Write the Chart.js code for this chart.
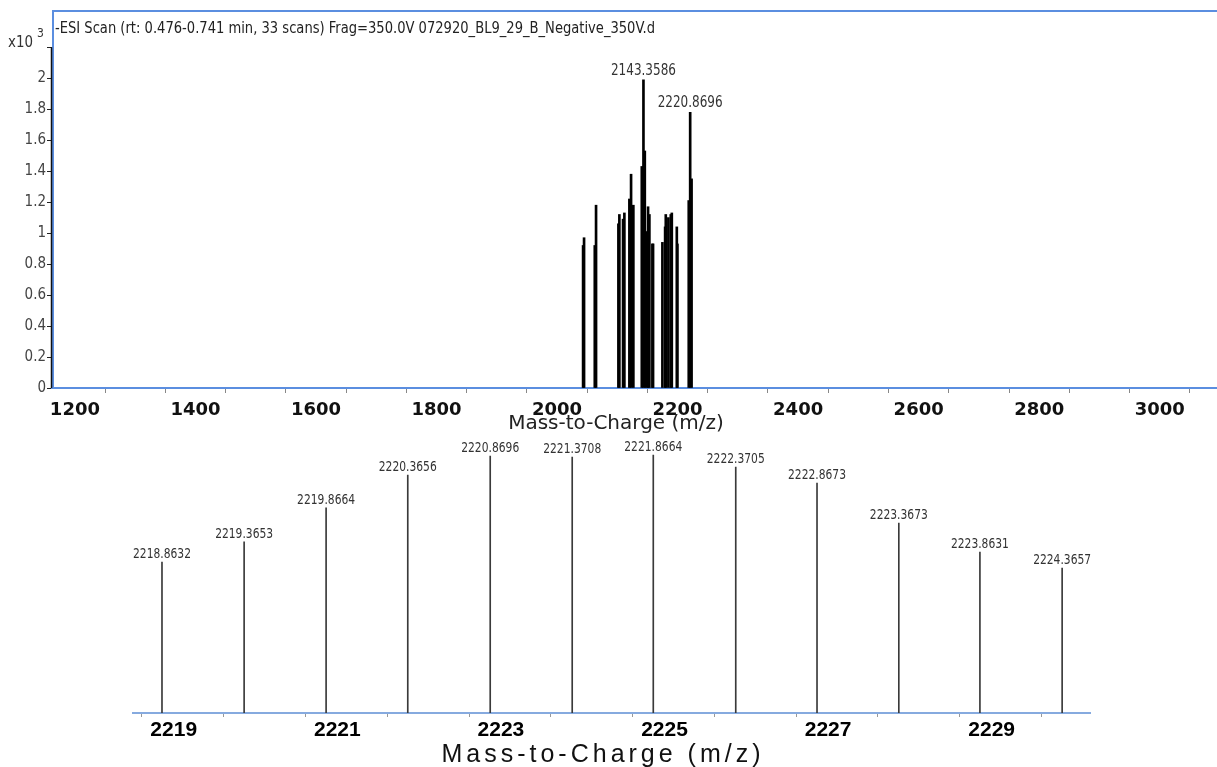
<!DOCTYPE html>
<html>
<head>
<meta charset="utf-8">
<script src="https://cdn.jsdelivr.net/npm/chart.js@4.4.1/dist/chart.umd.min.js"></script>
<style>
  body { margin: 0; background: #fff; }
  #wrap { position: relative; width: 1217px; height: 767px; }
  canvas { position: absolute; left: 0; }
  #scan { top: 0; }
  #zoom { top: 440px; }
</style>
</head>
<body>
<div id="wrap">
  <canvas id="scan" width="1217" height="440"></canvas>
  <canvas id="zoom" width="1217" height="327"></canvas>
</div>
<script>
// full scan: m/z and counts (x10^3)
const scanMz = [
  2043.2, 2044.8, 2062.6, 2064.7, 2101.8, 2103.4, 2109.5, 2111.7,
  2120.0, 2122.8, 2126.6, 2140.6, 2143.3586, 2145.6, 2148.8, 2151.0,
  2153.2, 2158.2, 2159.3, 2174.8, 2179.3, 2180.4, 2184.7, 2188.7,
  2190.4, 2198.7, 2199.7, 2218.5, 2220.8696, 2223.2
];
const scanCounts = [
  0.92, 0.97, 0.92, 1.18, 1.06, 1.12, 1.09, 1.13,
  1.22, 1.38, 1.18, 1.43, 1.99, 1.53, 1.01, 1.17,
  1.12, 0.93, 0.93, 0.94, 1.04, 1.12, 1.10, 1.12,
  1.13, 1.04, 0.93, 1.21, 1.78, 1.35
];
const scanLabeled = [2143.3586, 2220.8696];

const scanXTicks = [1200, 1300, 1400, 1500, 1600, 1700, 1800, 1900, 2000,
  2100, 2200, 2300, 2400, 2500, 2600, 2700, 2800, 2900, 3000];
const scanXLabels = ['1200', '', '1400', '', '1600', '', '1800', '', '2000',
  '', '2200', '', '2400', '', '2600', '', '2800', '', '3000'];
const scanYTicks = [0, 0.2, 0.4, 0.6, 0.8, 1, 1.2, 1.4, 1.6, 1.8, 2, 2.2];
const scanYLabels = ['0', '0.2', '0.4', '0.6', '0.8', '1', '1.2', '1.4', '1.6', '1.8', '2', ''];

// isotope cluster around 2220.87 (relative abundance, %)
const isoMz = [
  2218.8632, 2219.3653, 2219.8664, 2220.3656, 2220.8696, 2221.3708,
  2221.8664, 2222.3705, 2222.8673, 2223.3673, 2223.8631, 2224.3657
];
const isoAbund = [58.5, 66.3, 79.5, 92.2, 99.6, 99.2, 100, 95.3, 89.1, 73.6, 62.4, 56.2];

const isoXTicks = [2218.99, 2219.49, 2219.99, 2220.49, 2220.99, 2221.49,
  2221.99, 2222.49, 2222.99, 2223.49, 2223.99, 2224.49];
const isoXLabels = ['2219', '', '2221', '', '2223', '', '2225', '', '2227', '', '2229', ''];

const NARROW = "'Liberation Sans Narrow', 'DejaVu Sans Condensed', 'Liberation Sans', sans-serif";
const FRAME = '#5b8ee0';

const noPad = s => { s.paddingLeft = 0; s.paddingRight = 0; s.paddingTop = 0; s.paddingBottom = 0; };

const scanDecor = {
  id: 'scanDecor',
  afterDraw(chart) {
    const { ctx, chartArea: a, scales: { y } } = chart;
    ctx.save();
    // plot frame
    ctx.strokeStyle = FRAME;
    ctx.lineWidth = 2;
    ctx.beginPath();
    ctx.moveTo(a.left + 1, a.bottom);
    ctx.lineTo(a.left + 1, a.top + 1);
    ctx.lineTo(a.right, a.top + 1);
    ctx.stroke();
    // black intensity axis
    ctx.strokeStyle = '#111';
    ctx.lineWidth = 1.5;
    ctx.beginPath();
    ctx.moveTo(a.left - 0.5, y.getPixelForValue(0));
    ctx.lineTo(a.left - 0.5, y.getPixelForValue(2.2));
    ctx.stroke();

    // peak labels
    const meta = chart.getDatasetMeta(0);
    ctx.fillStyle = '#333';
    ctx.font = '16px ' + NARROW;
    ctx.textAlign = 'center';
    ctx.textBaseline = 'alphabetic';
    meta.data.forEach((el, i) => {
      if (scanLabeled.includes(scanMz[i])) {
        ctx.fillText(scanMz[i].toFixed(4), el.x, el.y - 5, 65);
      }
    });

    // scan header
    ctx.textAlign = 'left';
    ctx.fillStyle = '#222';
    ctx.fillText('-ESI Scan (rt: 0.476-0.741 min, 33 scans) Frag=350.0V 072920_BL9_29_B_Negative_350V.d', a.left + 3, 33, 600);
    ctx.fillStyle = '#333';
    ctx.fillText('x10', 8, 47, 25);
    ctx.font = '12px ' + NARROW;
    ctx.fillText('3', 37, 37);

    // axis title
    ctx.font = '20px "DejaVu Sans"';
    ctx.textAlign = 'center';
    ctx.textBaseline = 'middle';
    ctx.fillStyle = '#222';
    ctx.fillText('Mass-to-Charge (m/z)', 616, 424);
    ctx.restore();
  }
};

new Chart(document.getElementById('scan'), {
  type: 'bar',
  data: {
    datasets: [{
      data: scanMz.map((m, i) => ({ x: m, y: scanCounts[i] })),
      backgroundColor: '#000',
      barThickness: 2,
      borderWidth: 0
    }]
  },
  options: {
    responsive: false,
    animation: false,
    layout: { padding: { top: 10, left: 0, right: 0, bottom: 0 } },
    plugins: { legend: { display: false }, tooltip: { enabled: false } },
    scales: {
      x: {
        type: 'linear',
        offset: false,
        min: 1162,
        max: 3095,
        afterBuildTicks: s => { s.ticks = scanXTicks.map(v => ({ value: v })); },
        afterFit: s => { s.height = 52; noPad(s); },
        border: { color: FRAME, width: 2 },
        grid: { drawOnChartArea: false, tickLength: 5, color: '#888' },
        ticks: {
          autoSkip: false,
          maxRotation: 0,
          padding: 7,
          color: '#111',
          font: { family: 'DejaVu Sans', size: 18, weight: 'bold' },
          callback: (v, i) => scanXLabels[i]
        }
      },
      y: {
        min: 0,
        max: 2.44,
        afterBuildTicks: s => { s.ticks = scanYTicks.map(v => ({ value: v })); },
        afterFit: s => { s.width = 52; noPad(s); },
        border: { display: false },
        grid: { drawOnChartArea: false, tickLength: 5, color: '#222' },
        ticks: {
          autoSkip: false,
          padding: 1,
          color: '#444',
          font: { family: NARROW, size: 15 },
          callback: (v, i) => scanYLabels[i]
        }
      }
    }
  },
  plugins: [scanDecor]
});

const isoDecor = {
  id: 'isoDecor',
  afterDraw(chart) {
    const { ctx } = chart;
    const meta = chart.getDatasetMeta(0);
    ctx.save();
    ctx.fillStyle = '#333';
    ctx.font = '14px ' + NARROW;
    ctx.textAlign = 'center';
    ctx.textBaseline = 'alphabetic';
    meta.data.forEach((el, i) => {
      ctx.fillText(isoMz[i].toFixed(4), el.x, el.y - 4, 58);
    });
    // axis title
    ctx.fillStyle = '#111';
    ctx.font = '25px "Liberation Sans"';
    if ('letterSpacing' in ctx) ctx.letterSpacing = '4px';
    ctx.fillText('Mass-to-Charge (m/z)', 603, 322);
    ctx.restore();
  }
};

new Chart(document.getElementById('zoom'), {
  type: 'bar',
  data: {
    datasets: [{
      data: isoMz.map((m, i) => ({ x: m, y: isoAbund[i] })),
      backgroundColor: '#3a3a3a',
      barThickness: 1,
      borderWidth: 0
    }]
  },
  options: {
    responsive: false,
    animation: false,
    layout: { padding: { top: 8, left: 133, right: 127, bottom: 0 } },
    plugins: { legend: { display: false }, tooltip: { enabled: false } },
    scales: {
      x: {
        type: 'linear',
        offset: false,
        min: 2218.686,
        max: 2224.536,
        afterBuildTicks: s => { s.ticks = isoXTicks.map(v => ({ value: v })); },
        afterFit: s => { s.height = 54; noPad(s); },
        border: { color: '#86aadf', width: 2 },
        grid: { drawOnChartArea: false, tickLength: 4, color: '#999' },
        ticks: {
          autoSkip: false,
          maxRotation: 0,
          padding: 1,
          labelOffset: -9,
          color: '#000',
          font: { family: 'Liberation Sans', size: 21, weight: 'bold' },
          callback: (v, i) => isoXLabels[i]
        }
      },
      y: {
        display: false,
        min: 0,
        max: 102.7
      }
    }
  },
  plugins: [isoDecor]
});
</script>
</body>
</html>
